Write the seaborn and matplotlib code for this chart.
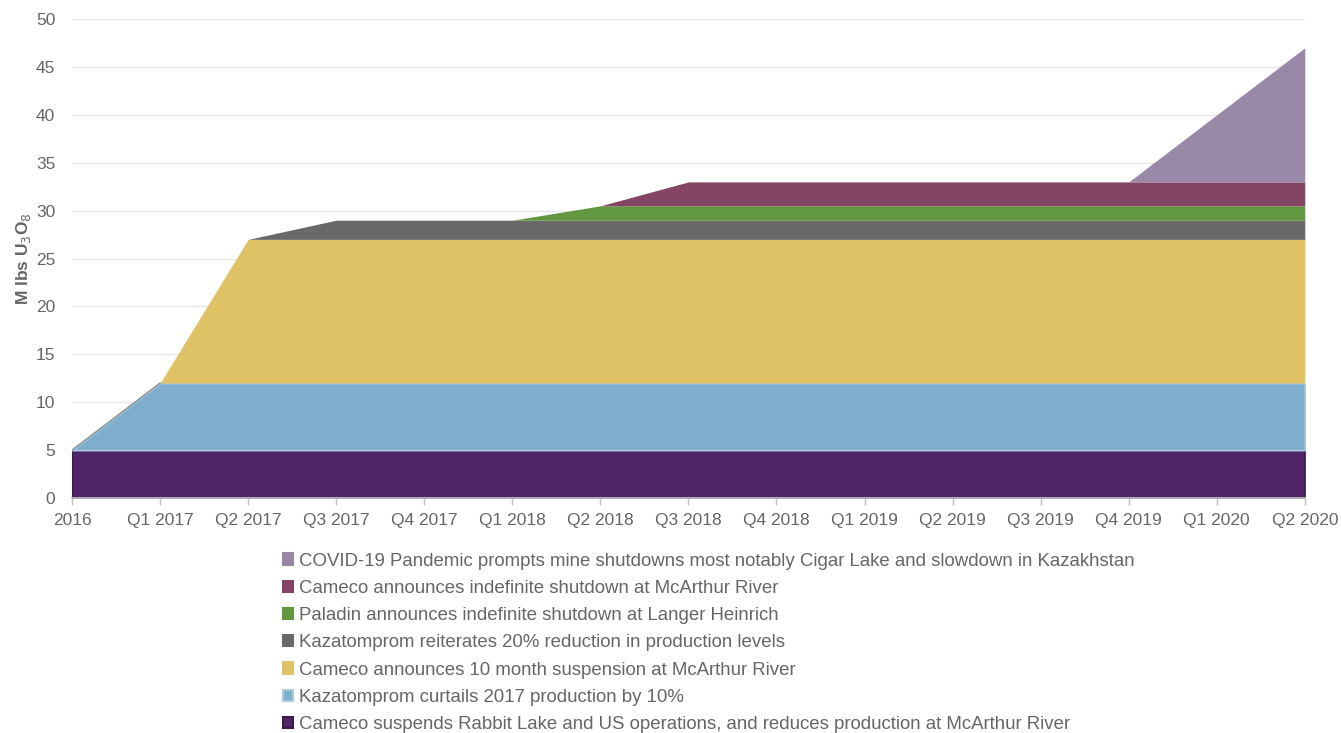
import matplotlib
matplotlib.use("Agg")
import matplotlib.pyplot as plt
from matplotlib.patches import Patch
import numpy as np
import seaborn as sns

quarters = ["2016", "Q1 2017", "Q2 2017", "Q3 2017", "Q4 2017", "Q1 2018", "Q2 2018",
            "Q3 2018", "Q4 2018", "Q1 2019", "Q2 2019", "Q3 2019", "Q4 2019", "Q1 2020", "Q2 2020"]

# layers, bottom to top (M lbs U3O8)
rabbit_lake = [5, 5, 5, 5, 5, 5, 5, 5, 5, 5, 5, 5, 5, 5, 5]
kaz_curtail = [0, 7, 7, 7, 7, 7, 7, 7, 7, 7, 7, 7, 7, 7, 7]
mcarthur_10m = [0, 0, 15, 15, 15, 15, 15, 15, 15, 15, 15, 15, 15, 15, 15]
kaz_20pct = [0, 0, 0, 2, 2, 2, 2, 2, 2, 2, 2, 2, 2, 2, 2]
paladin = [0, 0, 0, 0, 0, 0, 1.5, 1.5, 1.5, 1.5, 1.5, 1.5, 1.5, 1.5, 1.5]
mcarthur_indef = [0, 0, 0, 0, 0, 0, 0, 2.5, 2.5, 2.5, 2.5, 2.5, 2.5, 2.5, 2.5]
covid = [0, 0, 0, 0, 0, 0, 0, 0, 0, 0, 0, 0, 0, 7, 14]

labels = [
    "Cameco suspends Rabbit Lake and US operations, and reduces production at McArthur River",
    "Kazatomprom curtails 2017 production by 10%",
    "Cameco announces 10 month suspension at McArthur River",
    "Kazatomprom reiterates 20% reduction in production levels",
    "Paladin announces indefinite shutdown at Langer Heinrich",
    "Cameco announces indefinite shutdown at McArthur River",
    "COVID-19 Pandemic prompts mine shutdowns most notably Cigar Lake and slowdown in Kazakhstan",
]
colors = ["#4f2568", "#7eaecc", "#e0c266", "#696969", "#61973e", "#834563", "#9a88a8"]
edges = ["#3a1a4d", "#a9cde0", "#e0c266", "#696969", "#61973e", "#834563", "#9a88a8"]
edge_widths = [1.2, 1.2, 0, 0, 0, 0, 0]

sns.set_theme(style="white")
plt.rcParams["font.family"] = ["Liberation Sans", "DejaVu Sans"]
grey = "#666666"

fig = plt.figure(figsize=(13.41, 7.33), dpi=100)
ax = fig.add_axes([0.0537, 0.3206, 0.9193, 0.6534])

x = np.arange(len(quarters))
layers = [rabbit_lake, kaz_curtail, mcarthur_10m, kaz_20pct, paladin, mcarthur_indef, covid]
polys = ax.stackplot(x, *layers, colors=colors, zorder=2)
for p, ec, lw in zip(polys, edges, edge_widths):
    p.set_edgecolor(ec)
    p.set_linewidth(lw)

# thin grey edge on the rising diagonal, as in the original
ax.plot(x[:2], np.add(rabbit_lake, kaz_curtail)[:2], color="#8c8c8c", lw=1, zorder=3)

ax.set_xlim(0, len(quarters) - 1)
ax.set_ylim(0, 50)
ax.set_yticks(range(0, 51, 5))
ax.set_xticks(x)
ax.set_xticklabels(quarters)
ax.yaxis.grid(True, color="#e6e6e6", linewidth=1, zorder=0)
ax.set_axisbelow(True)
for s in ["top", "right", "left"]:
    ax.spines[s].set_visible(False)
ax.spines["bottom"].set_color("#bfbfbf")
ax.spines["bottom"].set_zorder(5)
ax.tick_params(axis="x", colors=grey, labelsize=12.5, length=5, width=1, direction="out",
               bottom=True, color="#bfbfbf", pad=6)
ax.tick_params(axis="y", colors=grey, labelsize=12.5, length=0, pad=12)
ax.set_ylabel("M lbs U$_3$O$_8$", color=grey, fontsize=12.5, fontweight="bold", labelpad=2)

handles = [Patch(facecolor=c, edgecolor=e, linewidth=1.5) for c, e in zip(colors, edges)]
fig.legend(handles[::-1], labels[::-1], loc="upper left", bbox_to_anchor=(0.211, 0.246),
           frameon=False, fontsize=13.4, labelcolor=grey, handlelength=0.55, handleheight=0.55,
           handletextpad=0.3, labelspacing=0.55, borderaxespad=0, borderpad=0)

fig.savefig("out.png", dpi=100)
